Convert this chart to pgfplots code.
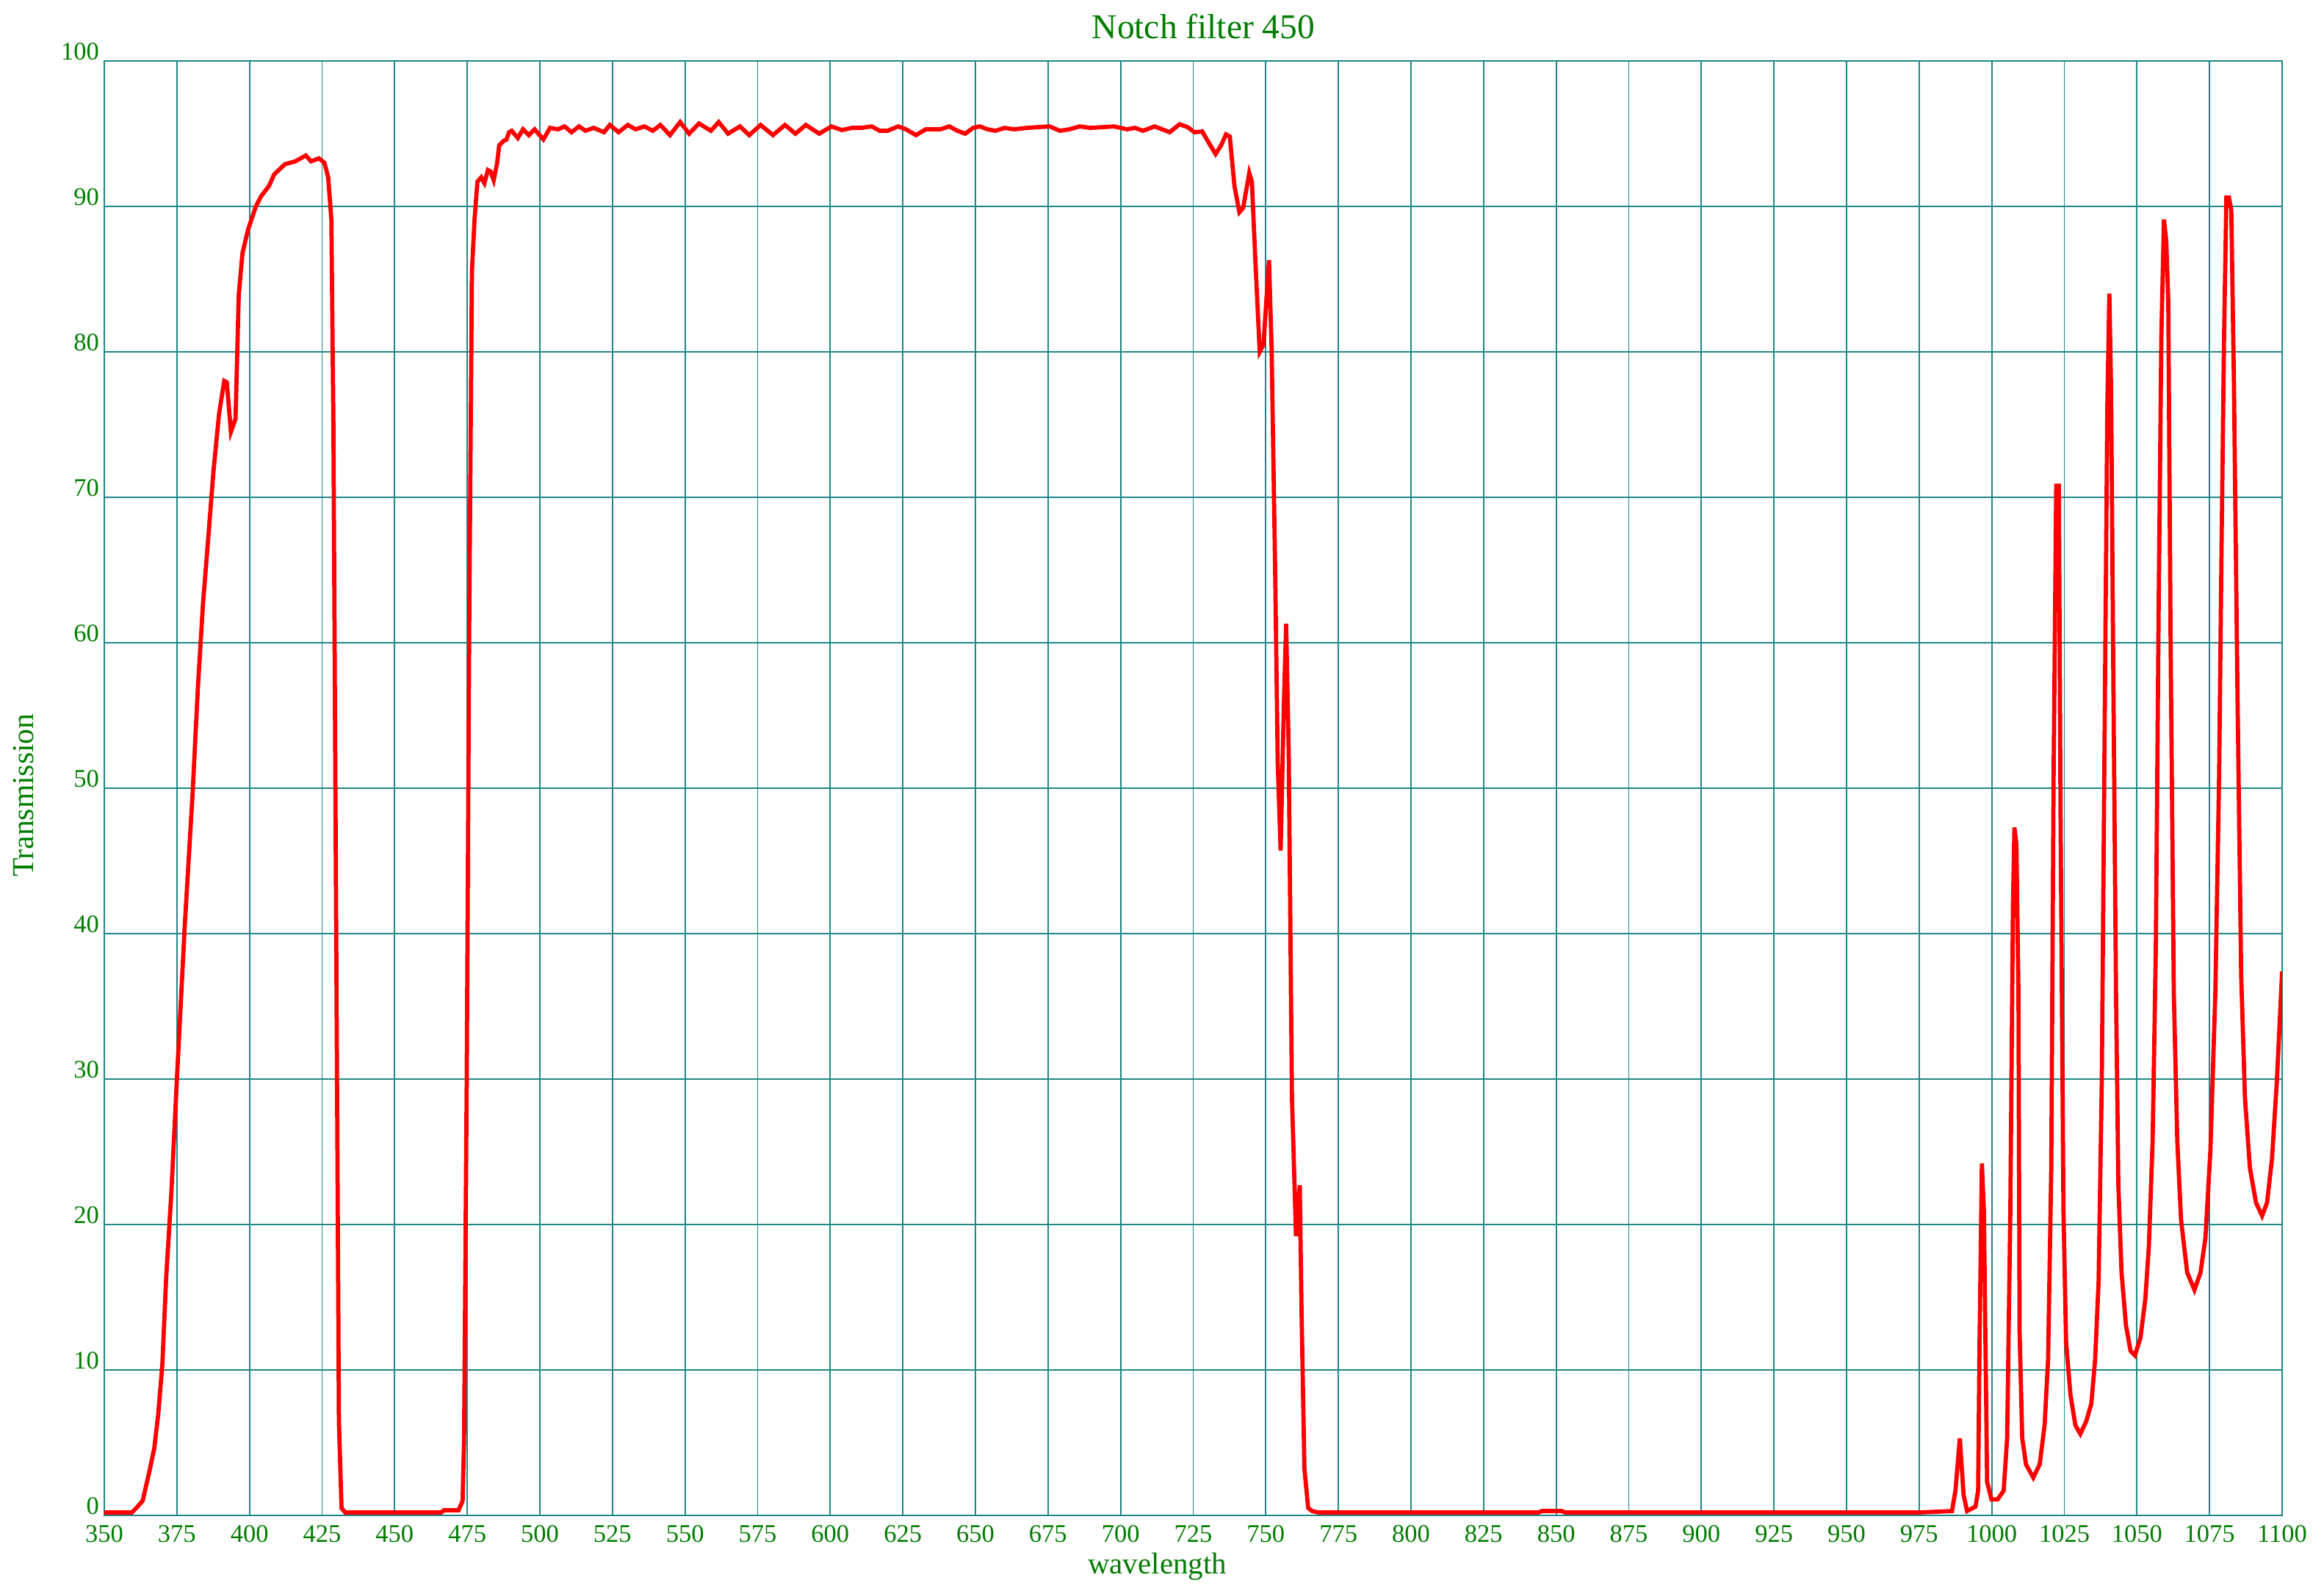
\documentclass[border=0pt]{standalone}
\usepackage{pgfplots}
\pgfplotsset{compat=1.18}
\usepackage{fontspec}
\setmainfont{Liberation Serif}

\definecolor{gridteal}{RGB}{30,135,135}
\definecolor{txtgreen}{RGB}{0,125,0}

\begin{document}
\begin{tikzpicture}
% page = 3164 x 2170 px at 5 px per pt
\path[use as bounding box] (-28.4pt,-21.4pt) rectangle (604.4pt,412.6pt);
\begin{axis}[
at={(0pt,0pt)}, anchor=south west,
scale only axis,
width=593pt, height=396pt,
xmin=350, xmax=1100, ymin=0, ymax=100,
xtick distance=25, ytick distance=10,
major tick length=0pt,
grid=major,
grid style={gridteal, line width=0.35pt},
axis line style={gridteal, line width=0.5pt},
/pgf/number format/assume math mode=true,
/pgf/number format/set thousands separator={},
tick label style={txtgreen, font=\fontsize{6.9}{8}\selectfont},
xticklabel style={anchor=north, inner sep=0pt, yshift=-2.6pt},
yticklabel style={anchor=south east, inner sep=0pt, xshift=-1.2pt},
every axis title shift=0pt,
title={Notch filter 450},
title style={txtgreen, font=\fontsize{9.5}{11}\selectfont,
  at={(axis description cs:0.5047,1.0152)}, anchor=base, inner sep=0pt},
xlabel={wavelength},
xlabel style={txtgreen, font=\fontsize{8.2}{10}\selectfont,
  at={(axis description cs:0.4835,-0.0404)}, anchor=base, inner sep=0pt},
ylabel={Transmission},
ylabel style={txtgreen, font=\fontsize{8.3}{10}\selectfont,
  at={(axis description cs:-0.0327,0.495)}, anchor=base, inner sep=0pt},
]
\addplot[red, line width=1.15pt, mark=none] coordinates {
(350,0.2) (359.5,0.2) (361,0.5) (363.2,1.0) (365.4,2.9) (367.2,4.6) (368.6,7.0)
(370,10.4) (371.3,16.3) (373.1,22.2) (375,30) (377.7,40.5) (380.4,49.6)
(382.2,56.8) (384,62.7) (385.8,67.2) (387.6,71.8) (389.5,75.7) (391.3,78.0)
(392.2,77.9) (393.6,74.5) (395.2,75.4) (396.3,83.9) (397.6,86.8) (399.5,88.4)
(402.2,90.0) (404,90.7) (406.7,91.4) (408.5,92.2) (412.2,92.9) (415.8,93.1)
(419.4,93.5) (421.2,93.1) (423.9,93.3) (425.8,93.0) (427.1,92.0) (428.2,89.1)
(428.9,75) (429.8,42.4) (430.8,6.5) (431.7,0.5) (433,0.2) (466,0.2) (467,0.35)
(472,0.35) (473.4,1.0) (473.9,5.2) (474.8,29.4) (475.7,62) (476.6,85.5)
(477.5,89.1) (478.5,91.7) (479.8,92.0) (480.9,91.6) (482.1,92.5) (483,92.4)
(484.1,91.8) (485.3,93.0) (486,94.2) (487.5,94.5) (488.5,94.6) (489.4,95.1)
(490.3,95.2) (492.4,94.7) (494.2,95.3) (496.2,94.9) (498.2,95.3) (501.2,94.6)
(503.5,95.4) (506.2,95.3) (508.5,95.5) (510.9,95.1) (513.5,95.5) (515.7,95.2)
(518.5,95.4) (522.1,95.1) (524.1,95.6) (527.1,95.1) (530.3,95.6) (533,95.3)
(536,95.5) (538.9,95.2) (541.5,95.6) (544.8,94.9) (548.3,95.8) (551.4,95.0)
(554.8,95.7) (558.9,95.2) (561.6,95.8) (564.8,95.0) (568.9,95.5) (572.1,94.9)
(576,95.6) (580.3,94.9) (584.4,95.6) (588,95.0) (591.6,95.6) (596.2,95.0)
(600.4,95.5) (604,95.25) (607.5,95.4) (610.7,95.4) (614.3,95.5) (617,95.2)
(619.7,95.2) (623.4,95.5) (626.1,95.3) (629.5,94.9) (632.9,95.3) (637.9,95.3)
(641,95.5) (643.8,95.2) (646.5,95.0) (649.2,95.4) (651.5,95.5) (654.2,95.3)
(656.9,95.2) (660.1,95.4) (663.3,95.3) (667.8,95.4) (675.5,95.5) (679.1,95.2)
(682.3,95.3) (685.9,95.5) (689.5,95.4) (694.1,95.45) (697.7,95.5) (702.2,95.3)
(704.9,95.4) (707.7,95.2) (711.7,95.5) (716.9,95.1) (720.3,95.65) (723.1,95.45)
(725.4,95.1) (728.1,95.15) (730.3,94.4) (732.7,93.6) (734.6,94.2) (736.3,94.95)
(737.6,94.8) (739.2,91.4) (740.9,89.6) (742.2,89.9) (744.3,92.3) (745.2,91.7)
(746.4,86.3) (747.9,80.0) (749.2,80.5) (751.1,86.3) (752,80.2) (753.2,65.2)
(754.1,51.8) (755.1,45.7) (756.2,55.6) (757,61.3) (757.9,52.4) (759,28.8)
(760.4,19.2) (761.7,22.7) (762.3,14.1) (763.3,3.2) (764.6,0.5) (766,0.3)
(768,0.2) (844,0.2) (845,0.3) (852,0.3) (853,0.2) (975,0.2) (986.3,0.3)
(987.5,1.7) (989,5.3) (990.3,1.4) (991.5,0.3) (994.4,0.6) (995.3,1.7)
(995.8,11.9) (996.6,24.2) (997.3,20.9) (998.4,2.3) (999.9,1.1) (1002,1.1)
(1004.1,1.7) (1005.3,5.3) (1006.4,20.9) (1007.3,41.9) (1007.8,47.3) (1008.5,46.1)
(1009.2,35.9) (1009.6,12.5) (1010.5,5.3) (1011.8,3.5) (1014.3,2.6) (1016.5,3.5)
(1018.2,6.2) (1019.4,10.7) (1020.5,23.9) (1021.3,50.9) (1022.2,70.8) (1023.1,70.8)
(1023.7,48) (1024.7,20.9) (1025.6,11.9) (1027.1,8.3) (1028.8,6.2) (1030.5,5.6)
(1032.6,6.5) (1034.3,7.7) (1035.6,10.7) (1036.8,16.1) (1037.9,29.9) (1039,56.9)
(1039.8,76.2) (1040.5,84) (1041.1,77.4) (1041.9,56.9) (1042.8,35.9) (1043.6,22.7)
(1044.7,16.7) (1046.2,13.1) (1047.8,11.3) (1049.3,11.0) (1051.2,12.2) (1052.9,14.9)
(1054.1,18.5) (1055.4,25.7) (1056.5,38.9) (1057.5,62.9) (1058.4,81) (1059.3,89.1)
(1060.1,87.6) (1060.8,83.4) (1061.6,59.9) (1062.7,35.9) (1063.9,25.7) (1065.2,20.3)
(1067.3,16.7) (1069.8,15.5) (1071.9,16.7) (1073.6,19.1) (1075.3,25.1) (1077,35.9)
(1078.3,50.9) (1079.1,65.9) (1080,81) (1080.8,90.6) (1081.7,90.6) (1082.5,89.7)
(1083.4,77.9) (1084.6,56.9) (1085.9,37.1) (1087.2,28.7) (1088.9,23.9) (1091,21.5)
(1093.1,20.6) (1094.8,21.5) (1096.5,24.5) (1098.2,29.9) (1100,37.4)
};
\end{axis}
\end{tikzpicture}
\end{document}
